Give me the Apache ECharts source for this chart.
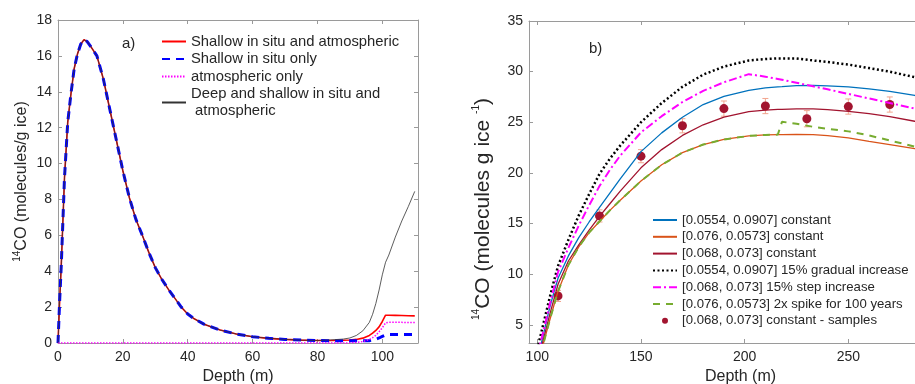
<!DOCTYPE html>
<html>
<head>
<meta charset="utf-8">
<script src="https://cdn.jsdelivr.net/npm/echarts@6/dist/echarts.min.js"></script>
<style>
html, body { margin: 0; padding: 0; background: #fff; }
#chart { width: 915px; height: 384px; }
</style>
</head>
<body>
<div id="chart"></div>
<script>
// ---- panel a) : depth profile, 0-110 m ----
const depthA = [0, 0.5, 1, 2, 3, 4, 5, 6, 7, 8,
    9, 10, 12, 14, 16, 18, 20, 22, 24, 26,
    28, 30, 32, 34, 36, 38, 40, 42, 45, 50,
    55, 60, 65, 70, 75, 80, 84, 88, 90, 92,
    94, 96, 97, 98, 99, 100, 101, 102, 104, 106,
    108, 110];
const shallowBoth = [0, 2.3, 4.3, 9.2, 12.3, 13.9, 15.3, 16.1, 16.65, 16.9,
    16.8, 16.55, 16.0, 14.7, 13.0, 11.3, 9.6, 8.1, 6.9, 6.0,
    5.05, 4.2, 3.55, 3.0, 2.5, 2.0, 1.62, 1.35, 1.05, 0.72,
    0.5, 0.35, 0.26, 0.2, 0.16, 0.14, 0.14, 0.15, 0.17, 0.2,
    0.27, 0.42, 0.55, 0.7, 0.9, 1.2, 1.55, 1.55, 1.54, 1.53,
    1.52, 1.51];
const shallowInSitu = [0, 2.3, 4.3, 9.2, 12.3, 13.9, 15.3, 16.1, 16.65, 16.9,
    16.8, 16.55, 16.0, 14.7, 13.0, 11.3, 9.6, 8.1, 6.9, 6.0,
    5.05, 4.2, 3.55, 3.0, 2.5, 2.0, 1.62, 1.35, 1.05, 0.72,
    0.5, 0.35, 0.26, 0.2, 0.16, 0.14, 0.13, 0.12, 0.12, 0.12,
    0.12, 0.13, 0.16, 0.21, 0.28, 0.37, 0.45, 0.47, 0.47, 0.47,
    0.47, 0.47];
const atmOnly = [0, 0, 0, 0, 0, 0, 0, 0, 0, 0,
    0, 0, 0, 0, 0, 0, 0, 0, 0, 0,
    0, 0, 0, 0, 0, 0, 0, 0, 0, 0,
    0, 0, 0, 0, 0, 0, 0, 0, 0.01, 0.03,
    0.08, 0.2, 0.3, 0.43, 0.62, 0.85, 1.12, 1.15, 1.15, 1.15,
    1.14, 1.14];
const deepShallow = [0, 2.3, 4.3, 9.2, 12.3, 13.9, 15.3, 16.1, 16.65, 16.9,
    16.8, 16.55, 16.0, 14.7, 13.0, 11.3, 9.6, 8.1, 6.9, 6.0,
    5.05, 4.2, 3.55, 3.0, 2.5, 2.0, 1.62, 1.35, 1.05, 0.72,
    0.5, 0.35, 0.26, 0.2, 0.16, 0.14, 0.17, 0.22, 0.28, 0.42,
    0.68, 1.15, 1.6, 2.2, 2.95, 3.8, 4.5, 4.9, 5.9, 6.8,
    7.6, 8.45];
const ticksAx = [0, 20, 40, 60, 80, 100];

// ---- panel b) : deeper part, model runs + samples ----
const depthB = [100, 102, 104, 106, 108, 110, 115, 120, 125, 130,
    135, 140, 150, 160, 170, 180, 190, 202, 210, 216,
    218, 225, 233, 240, 250, 260, 270, 282, 300];
const blueConst = [1.6, 3.2, 5.0, 6.7, 8.2, 9.6, 11.8, 13.6, 15.15, 16.6,
    18.0, 19.4, 22.1, 23.95, 25.5, 26.75, 27.55, 28.15, 28.4, 28.5,
    28.52, 28.62, 28.65, 28.6, 28.5, 28.3, 28.05, 27.65, 26.9];
const orangeConst = [0.9, 2.4, 3.95, 5.45, 6.9, 8.3, 10.9, 12.7, 14.1, 15.2,
    16.3, 17.3, 19.2, 20.8, 22.0, 22.8, 23.3, 23.65, 23.75, 23.78,
    23.78, 23.8, 23.77, 23.68, 23.45, 23.12, 22.8, 22.4, 21.7];
const brownConst = [1.2, 2.8, 4.4, 6.0, 7.5, 9.0, 11.3, 12.9, 14.35, 15.7,
    16.95, 18.2, 20.5, 22.3, 23.7, 24.75, 25.5, 26.05, 26.2, 26.27,
    26.28, 26.32, 26.32, 26.25, 26.08, 25.85, 25.55, 25.1, 24.3];
const blackGradual = [2.6, 4.3, 6.0, 7.7, 9.3, 10.8, 13.4, 15.8, 17.9, 19.9,
    21.4, 22.7, 25.0, 26.9, 28.5, 29.7, 30.5, 31.1, 31.25, 31.3,
    31.3, 31.3, 31.1, 30.95, 30.7, 30.35, 30.0, 29.45, 28.5];
const magentaStep = [2.0, 3.6, 5.3, 7.0, 8.6, 10.2, 12.6, 14.8, 16.8, 18.7,
    20.3, 21.7, 24.0, 25.6, 27.0, 28.1, 28.95, 29.75, 29.5, 29.28,
    29.2, 28.9, 28.55, 28.25, 27.8, 27.35, 26.9, 26.35, 25.55];
const greenSpike = [0.9, 2.4, 3.95, 5.45, 6.9, 8.3, 10.9, 12.7, 14.1, 15.2,
    16.3, 17.3, 19.2, 20.8, 22.0, 22.8, 23.3, 23.65, 23.75, 23.78,
    25.05, 24.85, 24.55, 24.35, 24.1, 23.7, 23.2, 22.6, 21.8];
const sampleDepth = [110, 130, 150, 170, 190, 210, 230, 250, 270];
const sampleMean = [7.85, 15.75, 21.65, 24.65, 26.35, 26.6, 25.35, 26.55, 26.75];
const sampleErr = [0.55, 0.6, 0.65, 0.7, 0.75, 0.75, 0.8, 0.75, 0.75];
const ticksBx = [100, 150, 200, 250, 300];
const ticksBy = [5, 10, 15, 20, 25, 30, 35];

const FONT = '"Liberation Sans", Arial, Helvetica, sans-serif';
const TXT = '#262626';
const AXIS = '#9a9a9a';

const pairs = (xs, ys) => xs.map((x, i) => [x, ys[i]]);

// shared look of a MATLAB style box axis
const boxAxis = (extra) => Object.assign({
    type: 'value',
    splitLine: { show: false },
    axisLine: { show: true, onZero: false, lineStyle: { color: AXIS, width: 1 } },
    axisTick: { inside: true, length: 4, lineStyle: { color: AXIS } },
    axisLabel: { color: TXT, fontSize: 14, fontFamily: FONT },
    nameTextStyle: { color: TXT, fontSize: 16, fontFamily: FONT },
}, extra);

const supRich = {
    sup: { fontSize: 10, fontFamily: FONT, color: TXT, verticalAlign: 'top', lineHeight: 10 },
};

const lineSeries = (axisIdx, name, data, color, width, type) => ({
    name,
    type: 'line',
    xAxisIndex: axisIdx === 0 ? 0 : 2,
    yAxisIndex: axisIdx === 0 ? 0 : 2,
    data,
    symbol: 'none',
    showSymbol: false,
    lineStyle: { color, width, type: type || 'solid' },
    itemStyle: { color },
});

const nameDeep = 'Deep and shallow in situ and atmospheric';
const nameSamples = '[0.068, 0.073] constant - samples';
const errData = sampleDepth.map((d, i) => [d, sampleMean[i] - sampleErr[i], sampleMean[i] + sampleErr[i]]);

const option = {
    animation: false,
    backgroundColor: '#fff',
    title: [
        { text: 'a)', left: 117, top: 31, textStyle: { fontSize: 15, fontWeight: 'normal', color: TXT, fontFamily: FONT } },
        { text: 'b)', left: 584, top: 36, textStyle: { fontSize: 15, fontWeight: 'normal', color: TXT, fontFamily: FONT } },
    ],
    grid: [
        { left: 58, top: 20, width: 360, height: 323, outerBoundsMode: 'none' },
        { left: 529, top: 21, width: 423, height: 322, outerBoundsMode: 'none' },
    ],
    xAxis: [
        boxAxis({
            gridIndex: 0, min: 0, max: 111, position: 'bottom',
            axisTick: { inside: true, length: 4, customValues: ticksAx, lineStyle: { color: AXIS } },
            axisLabel: { customValues: ticksAx, color: TXT, fontSize: 14, fontFamily: FONT, margin: 7 },
            name: 'Depth (m)', nameLocation: 'middle', nameGap: 23,
        }),
        boxAxis({
            gridIndex: 0, min: 0, max: 111, position: 'top',
            axisTick: { inside: true, length: 4, customValues: ticksAx, lineStyle: { color: AXIS } },
            axisLabel: { show: false },
        }),
        boxAxis({
            gridIndex: 1, min: 96, max: 300, position: 'bottom',
            axisTick: { inside: true, length: 4, customValues: ticksBx, lineStyle: { color: AXIS } },
            axisLabel: { customValues: ticksBx, color: TXT, fontSize: 14, fontFamily: FONT, margin: 7 },
            name: 'Depth (m)', nameLocation: 'middle', nameGap: 23,
        }),
        boxAxis({
            gridIndex: 1, min: 96, max: 300, position: 'top',
            axisTick: { inside: true, length: 4, customValues: ticksBx, lineStyle: { color: AXIS } },
            axisLabel: { show: false },
        }),
    ],
    yAxis: [
        boxAxis({
            gridIndex: 0, min: 0, max: 18, interval: 2, position: 'left',
            axisLabel: { color: TXT, fontSize: 14, fontFamily: FONT, margin: 6 },
            name: '{sup|14}CO (molecules/g ice)', nameLocation: 'middle', nameGap: 26,
            nameTextStyle: { color: TXT, fontSize: 16, fontFamily: FONT, lineHeight: 20, rich: supRich },
        }),
        boxAxis({
            gridIndex: 0, min: 0, max: 18, interval: 2, position: 'right',
            axisLabel: { show: false },
        }),
        boxAxis({
            gridIndex: 1, min: 3.2, max: 35, position: 'left',
            axisTick: { inside: true, length: 4, customValues: ticksBy, lineStyle: { color: AXIS } },
            axisLabel: { customValues: ticksBy, color: TXT, fontSize: 14, fontFamily: FONT, margin: 6 },
            name: '{sup|14}CO (molecules g ice {sup|-1})', nameLocation: 'middle', nameGap: 34,
            // label sits lower than the axis middle in the original
            nameTextStyle: { color: TXT, fontSize: 21, fontFamily: FONT, lineHeight: 24, padding: [0, 54, 0, 0], rich: supRich },
        }),
    ],
    legend: [
        {
            orient: 'vertical', left: 161, top: 33, padding: 0,
            itemWidth: 24, itemHeight: 10, itemGap: 0.5,
            itemStyle: { opacity: 0 }, // no marker, only the line
            textStyle: { color: TXT, fontSize: 14.8, fontFamily: FONT, lineHeight: 17 },
            data: ['Shallow in situ and atmospheric', 'Shallow in situ only', 'atmospheric only', nameDeep],
            formatter: (n) => (n === nameDeep ? 'Deep and shallow in situ and\n atmospheric' : n),
        },
        {
            orient: 'vertical', left: 652, top: 212, padding: 0,
            itemWidth: 24, itemHeight: 6, itemGap: 0.8,
            itemStyle: { opacity: 0 },
            textStyle: { color: TXT, fontSize: 13.2, fontFamily: FONT, lineHeight: 16 },
            data: [
                '[0.0554, 0.0907] constant',
                '[0.076, 0.0573] constant',
                '[0.068, 0.073] constant',
                '[0.0554, 0.0907] 15% gradual increase',
                '[0.068, 0.073] 15% step increase',
                '[0.076, 0.0573] 2x spike for 100 years',
                { name: nameSamples, itemStyle: { opacity: 1 } },
            ],
        },
    ],
    series: [
        lineSeries(0, 'Shallow in situ and atmospheric', pairs(depthA, shallowBoth), '#ff0000', 1.6),
        lineSeries(0, 'Shallow in situ only', pairs(depthA, shallowInSitu), '#0000ff', 3, [8, 6]),
        lineSeries(0, 'atmospheric only', pairs(depthA, atmOnly), '#ff00ff', 1.5, [1.5, 1.5]),
        lineSeries(0, nameDeep, pairs(depthA, deepShallow), '#333333', 0.8),

        lineSeries(1, '[0.0554, 0.0907] constant', pairs(depthB, blueConst), '#0072BD', 1.3),
        lineSeries(1, '[0.076, 0.0573] constant', pairs(depthB, orangeConst), '#D95319', 1.3),
        lineSeries(1, '[0.068, 0.073] constant', pairs(depthB, brownConst), '#A2142F', 1.3),
        lineSeries(1, '[0.0554, 0.0907] 15% gradual increase', pairs(depthB, blackGradual), '#000000', 2.5, [2, 2.5]),
        lineSeries(1, '[0.068, 0.073] 15% step increase', pairs(depthB, magentaStep), '#ff00ff', 2, [8, 3, 2, 3]),
        lineSeries(1, '[0.076, 0.0573] 2x spike for 100 years', pairs(depthB, greenSpike), '#77AC30', 2, [7, 6]),
        {
            // error bars of the samples
            type: 'custom',
            xAxisIndex: 2,
            yAxisIndex: 2,
            data: errData,
            encode: { x: 0, y: [1, 2] },
            renderItem(params, api) {
                const lo = api.coord([api.value(0), api.value(1)]);
                const hi = api.coord([api.value(0), api.value(2)]);
                const st = { stroke: '#F2A58E', lineWidth: 1 };
                return {
                    type: 'group',
                    children: [
                        { type: 'line', shape: { x1: lo[0], y1: lo[1], x2: hi[0], y2: hi[1] }, style: st },
                        { type: 'line', shape: { x1: lo[0] - 3, y1: lo[1], x2: lo[0] + 3, y2: lo[1] }, style: st },
                        { type: 'line', shape: { x1: hi[0] - 3, y1: hi[1], x2: hi[0] + 3, y2: hi[1] }, style: st },
                    ],
                };
            },
        },
        {
            name: nameSamples,
            type: 'scatter',
            xAxisIndex: 2,
            yAxisIndex: 2,
            data: pairs(sampleDepth, sampleMean),
            symbol: 'circle',
            symbolSize: 9,
            itemStyle: { color: '#A2142F', opacity: 1 },
        },
    ],
};

const chart = echarts.init(document.getElementById('chart'));
chart.setOption(option);
</script>
</body>
</html>
